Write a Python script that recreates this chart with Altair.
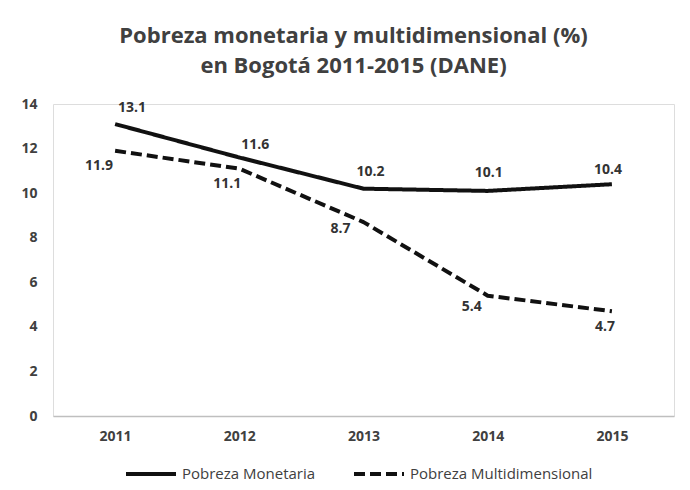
import altair as alt
import pandas as pd

years = ["2011", "2012", "2013", "2014", "2015"]
monetaria = [13.1, 11.6, 10.2, 10.1, 10.4]
multidim = [11.9, 11.1, 8.7, 5.4, 4.7]
series_names = ["Pobreza Monetaria", "Pobreza Multidimensional"]
y_ticks = [0, 2, 4, 6, 8, 10, 12, 14]
title_lines = ["Pobreza monetaria y multidimensional (%)", "en Bogotá 2011-2015 (DANE)"]

rows = []
for s, vals in zip(series_names, [monetaria, multidim]):
    for yr, v in zip(years, vals):
        rows.append({"year": yr, "serie": s, "valor": v, "lab": f"{v:.1f}"})
df = pd.DataFrame(rows)

# label offsets (dx, dy) per point, styles only
offsets = {
    "Pobreza Monetaria": [(17, -16), (16, -12), (7, -17), (1, -18), (-4, -14)],
    "Pobreza Multidimensional": [(-16, 15), (-12, 15), (-23, 7), (-16, 11), (-7, 16)],
}

W, H = 621, 312
FONT = "Open Sans"
INK = "#111111"
GREY = "#404040"

x_enc = alt.X("year:O", scale=alt.Scale(type="point", padding=0.5, domain=years),
              axis=alt.Axis(title=None, labelAngle=0, ticks=False, labelPadding=13,
                            domainColor="#bfbfbf", domainWidth=1.5,
                            labelFont=FONT, labelFontSize=14, labelFontWeight="bold",
                            labelColor=GREY, grid=False))
y_enc = alt.Y("valor:Q", scale=alt.Scale(domain=[0, 14], nice=False, zero=True),
              axis=alt.Axis(title=None, values=y_ticks, ticks=False, domain=False, grid=False,
                            labelPadding=16, labelFont=FONT, labelFontSize=14,
                            labelFontWeight="bold", labelColor=GREY))

base = alt.Chart(df)

lines = base.mark_line(color=INK, strokeWidth=4, strokeCap="butt", strokeJoin="round").encode(
    x=x_enc,
    y=y_enc,
    strokeDash=alt.StrokeDash(
        "serie:N",
        scale=alt.Scale(domain=series_names, range=[[1, 0], [11, 5]]),
        legend=alt.Legend(title=None, orient="none", legendX=71, legendY=343,
                          direction="horizontal", symbolType="stroke", symbolSize=2500,
                          symbolStrokeWidth=4, symbolStrokeColor=INK, columnPadding=30,
                          labelOffset=4, labelFont=FONT, labelFontSize=15,
                          labelColor=GREY, labelLimit=0, padding=0),
    ),
)

label_layers = []
for s in series_names:
    for i, yr in enumerate(years):
        dx, dy = offsets[s][i]
        label_layers.append(
            base.transform_filter(
                (alt.datum.serie == s) & (alt.datum.year == yr)
            ).mark_text(dx=dx, dy=dy, font=FONT, fontSize=14, fontWeight="bold",
                        color="#333333", align="center", baseline="middle").encode(
                x=alt.X("year:O"), y=alt.Y("valor:Q"), text="lab:N")
        )

chart = alt.layer(lines, *label_layers).properties(
    width=W, height=H,
    title=alt.TitleParams(text=title_lines, font=FONT, fontSize=22, fontWeight="bold",
                          color=GREY, anchor="middle", dx=-10, offset=19, lineHeight=30),
    autosize=alt.AutoSizeParams(type="none"),
    padding={"left": 45, "top": 96, "right": 8, "bottom": 66},
).configure_view(stroke=None).configure(background="white")

chart.save("out.html", embed_options={"renderer": "svg", "actions": False})
